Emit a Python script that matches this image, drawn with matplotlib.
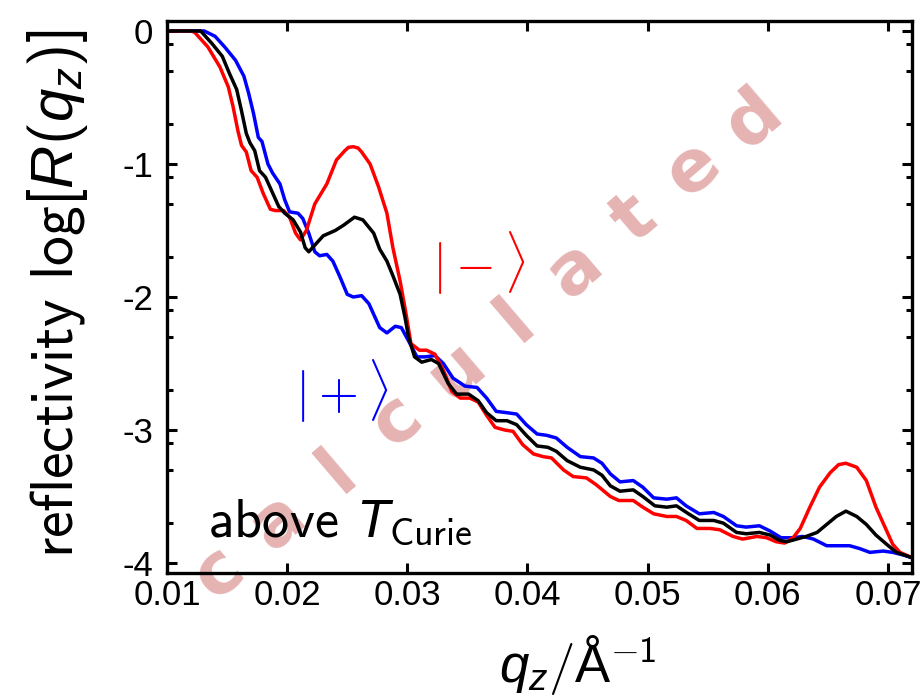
import matplotlib
matplotlib.use('Agg')
import matplotlib.pyplot as plt
from matplotlib.ticker import FormatStrFormatter, FixedLocator
import numpy as np

# --------- data -------- #
# |-> spin channel (red)
q_minus = [0.0100, 0.0120, 0.0123, 0.0134, 0.0144, 0.0151, 0.0155, 0.0159, 0.0162, 0.0166,
           0.0170, 0.0175, 0.0180, 0.0186, 0.0190, 0.0197, 0.0202, 0.0207, 0.0211, 0.0216,
           0.0223, 0.0233, 0.0241, 0.0248, 0.0251, 0.0255, 0.0259, 0.0262, 0.0269, 0.0276,
           0.0283, 0.0288, 0.0294, 0.0299, 0.0303, 0.0310, 0.0316, 0.0323, 0.0330, 0.0337,
           0.0344, 0.0352, 0.0359, 0.0366, 0.0373, 0.0381, 0.0388, 0.0396, 0.0405, 0.0413,
           0.0420, 0.0430, 0.0438, 0.0449, 0.0457, 0.0469, 0.0476, 0.0488, 0.0496, 0.0505,
           0.0516, 0.0524, 0.0532, 0.0541, 0.0552, 0.0560, 0.0571, 0.0579, 0.0591, 0.0599,
           0.0607, 0.0614, 0.0621, 0.0627, 0.0635, 0.0643, 0.0652, 0.0659, 0.0665, 0.0674,
           0.0682, 0.0690, 0.0699, 0.0704, 0.0710, 0.0720]
r_minus = [0.00, 0.00, -0.01, -0.12, -0.27, -0.42, -0.57, -0.75, -0.86, -0.91,
           -1.05, -1.10, -1.22, -1.34, -1.35, -1.35, -1.40, -1.52, -1.57, -1.50,
           -1.30, -1.15, -0.97, -0.90, -0.875, -0.87, -0.88, -0.91, -1.00, -1.17,
           -1.37, -1.63, -1.88, -2.13, -2.35, -2.40, -2.40, -2.43, -2.55, -2.71,
           -2.76, -2.76, -2.79, -2.89, -2.98, -3.00, -3.01, -3.11, -3.18, -3.20,
           -3.21, -3.30, -3.35, -3.36, -3.41, -3.50, -3.53, -3.53, -3.58, -3.63,
           -3.65, -3.65, -3.68, -3.74, -3.74, -3.75, -3.80, -3.82, -3.80, -3.81,
           -3.84, -3.85, -3.81, -3.74, -3.58, -3.43, -3.32, -3.26, -3.25, -3.28,
           -3.38, -3.58, -3.76, -3.86, -3.92, -3.96]

# |+> spin channel (blue)
q_plus = [0.0100, 0.0131, 0.0140, 0.0148, 0.0157, 0.0164, 0.0168, 0.0172, 0.0176, 0.0179,
          0.0184, 0.0188, 0.0194, 0.0198, 0.0202, 0.0209, 0.0213, 0.0218, 0.0223, 0.0227,
          0.0233, 0.0238, 0.0244, 0.0250, 0.0255, 0.0262, 0.0268, 0.0273, 0.0277, 0.0283,
          0.0290, 0.0295, 0.0301, 0.0308, 0.0315, 0.0323, 0.0330, 0.0338, 0.0348, 0.0358,
          0.0366, 0.0374, 0.0383, 0.0391, 0.0399, 0.0408, 0.0416, 0.0424, 0.0433, 0.0444,
          0.0455, 0.0462, 0.0469, 0.0477, 0.0488, 0.0496, 0.0505, 0.0516, 0.0524, 0.0532,
          0.0543, 0.0555, 0.0563, 0.0574, 0.0582, 0.0593, 0.0602, 0.0611, 0.0621, 0.0629,
          0.0638, 0.0649, 0.0660, 0.0668, 0.0676, 0.0685, 0.0696, 0.0704, 0.0713, 0.0720]
r_plus = [0.00, 0.00, -0.04, -0.12, -0.22, -0.34, -0.47, -0.62, -0.80, -0.83,
          -1.00, -1.07, -1.15, -1.27, -1.36, -1.37, -1.41, -1.52, -1.66, -1.69,
          -1.68, -1.73, -1.85, -1.98, -2.00, -1.99, -2.05, -2.15, -2.23, -2.27,
          -2.22, -2.23, -2.33, -2.45, -2.45, -2.44, -2.50, -2.61, -2.67, -2.68,
          -2.76, -2.86, -2.87, -2.88, -2.96, -3.03, -3.04, -3.06, -3.13, -3.20,
          -3.21, -3.25, -3.33, -3.39, -3.38, -3.43, -3.51, -3.52, -3.51, -3.57,
          -3.63, -3.62, -3.65, -3.72, -3.73, -3.72, -3.76, -3.81, -3.81, -3.80,
          -3.82, -3.87, -3.87, -3.87, -3.89, -3.92, -3.91, -3.92, -3.94, -3.96]

# unpolarised (black)
q_avg = [0.0100, 0.0128, 0.0137, 0.0146, 0.0152, 0.0158, 0.0162, 0.0166, 0.0169, 0.0173,
         0.0177, 0.0182, 0.0187, 0.0193, 0.0198, 0.0205, 0.0211, 0.0215, 0.0218, 0.0223,
         0.0230, 0.0240, 0.0247, 0.0256, 0.0263, 0.0272, 0.0277, 0.0283, 0.0288, 0.0294,
         0.0298, 0.0301, 0.0306, 0.0312, 0.0320, 0.0326, 0.0334, 0.0341, 0.0351, 0.0359,
         0.0366, 0.0374, 0.0383, 0.0391, 0.0399, 0.0408, 0.0417, 0.0424, 0.0433, 0.0444,
         0.0455, 0.0462, 0.0469, 0.0477, 0.0488, 0.0496, 0.0506, 0.0516, 0.0524, 0.0534,
         0.0543, 0.0555, 0.0563, 0.0574, 0.0582, 0.0593, 0.0602, 0.0610, 0.0616, 0.0624,
         0.0632, 0.0641, 0.0649, 0.0657, 0.0665, 0.0674, 0.0682, 0.0690, 0.0699, 0.0707,
         0.0720]
r_avg = [0.00, 0.00, -0.09, -0.19, -0.32, -0.44, -0.60, -0.77, -0.84, -0.90,
         -1.05, -1.10, -1.20, -1.32, -1.37, -1.42, -1.51, -1.63, -1.66, -1.61,
         -1.54, -1.50, -1.46, -1.40, -1.42, -1.52, -1.64, -1.73, -1.84, -1.98,
         -2.15, -2.30, -2.45, -2.49, -2.47, -2.50, -2.65, -2.73, -2.73, -2.78,
         -2.87, -2.93, -2.93, -2.96, -3.04, -3.12, -3.13, -3.16, -3.23, -3.28,
         -3.30, -3.34, -3.42, -3.46, -3.45, -3.50, -3.57, -3.58, -3.57, -3.63,
         -3.68, -3.68, -3.70, -3.77, -3.78, -3.77, -3.79, -3.83, -3.84, -3.82,
         -3.80, -3.77, -3.71, -3.65, -3.61, -3.65, -3.71, -3.79, -3.86, -3.92,
         -3.96]

x_ticks = [0.01, 0.02, 0.03, 0.04, 0.05, 0.06, 0.07]
y_ticks = [0, -1, -2, -3, -4]
y_minor = [d + np.log10(f) for d in [0, -1, -2, -3] for f in (0.8, 0.5, 0.2)]
watermark = 'calculated'

# --------- style -------- #
plt.rcParams['font.family'] = ['Liberation Sans', 'DejaVu Sans']
plt.rcParams['axes.unicode_minus'] = False
plt.rcParams['mathtext.fontset'] = 'custom'
plt.rcParams['mathtext.rm'] = 'cmss10'
plt.rcParams['mathtext.sf'] = 'Liberation Sans'
plt.rcParams['mathtext.it'] = 'Liberation Sans:italic'

fig = plt.figure(figsize=(9.23, 6.99), dpi=100)
ax = fig.add_axes([167 / 923, 1 - 573 / 699, (912 - 167) / 923, (573 - 21) / 699])
ax.patch.set_alpha(0)

# watermark behind everything, one letter at a time along a diagonal
x0, y0, dx, dy = 219, 572, 59.3, -50.4
for i, ch in enumerate(watermark):
    fig.text((x0 + i * dx) / 923, 1 - (y0 + i * dy) / 699, ch, rotation=40.5,
             ha='center', va='center', rotation_mode='anchor', fontsize=52,
             family='DejaVu Sans', weight='bold', color='#e6b3b3', zorder=-1)

ax.plot(q_plus, r_plus, color='#0000ff', lw=2.5, solid_joinstyle='round')
ax.plot(q_minus, r_minus, color='#ff0000', lw=2.5, solid_joinstyle='round')
ax.plot(q_avg, r_avg, color='black', lw=2.5, solid_joinstyle='round')

ax.set_xlim(0.01, 0.072)
ax.set_ylim(-4.075, 0.075)
ax.set_xticks(x_ticks)
ax.set_yticks(y_ticks)
ax.yaxis.set_minor_locator(FixedLocator(y_minor))
ax.xaxis.set_major_formatter(FormatStrFormatter('%.2f'))
ax.yaxis.set_major_formatter(FormatStrFormatter('%d'))

for s in ax.spines.values():
    s.set_linewidth(2.4)
ax.tick_params(which='both', direction='in', top=True, right=True, width=2.2)
ax.tick_params(which='major', length=7)
ax.tick_params(which='minor', length=4.5)
ax.tick_params(axis='x', pad=4, labelsize=25)
ax.tick_params(axis='y', pad=10, labelsize=25)

# labels
fig.text(58 / 923, 1 - 294 / 699, r'reflectivity log$[R(q_z)]$', rotation=90,
         ha='center', va='center', fontsize=43, family='cmss10')
fig.text(578 / 923, 1 - 665 / 699, r'$q_z/\mathsf{\AA}^{-1}$',
         ha='center', va='center', fontsize=38, family='cmss10')

ax.text(0.01341, -3.798, r'above $T_{\mathrm{Curie}}$', ha='left', va='baseline',
        fontsize=39, family='cmss10')
ax.text(0.03596, -1.748, r'$|-\rangle$', color='#ff0000', ha='center', va='center',
        fontsize=37, math_fontfamily='cm')
ax.text(0.02456, -2.713, r'$|+\rangle$', color='#0000ff', ha='center', va='center',
        fontsize=37, math_fontfamily='cm')

fig.savefig('out.png', dpi=100)
